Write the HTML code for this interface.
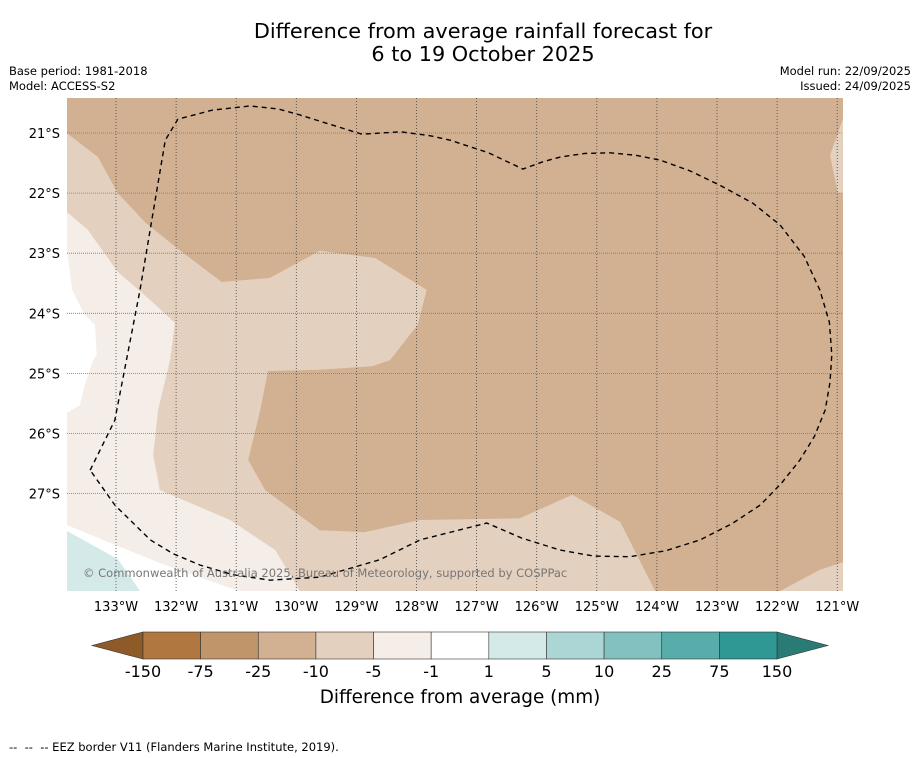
<!DOCTYPE html>
<html><head><meta charset="utf-8"><style>
body{margin:0;background:#fff;}
svg{display:block;font-family:"DejaVu Sans","Liberation Sans",sans-serif;}
</style></head><body>
<svg id="chart" width="919" height="758" viewBox="0 0 919 758" xmlns="http://www.w3.org/2000/svg">
<rect width="919" height="758" fill="#fff"/>
<text x="483" y="38" font-size="20.8" text-anchor="middle" fill="#000">Difference from average rainfall forecast for</text>
<text x="483" y="61" font-size="20.8" text-anchor="middle" fill="#000">6 to 19 October 2025</text>
<text x="9" y="75" font-size="11.5">Base period: 1981-2018</text>
<text x="9" y="90" font-size="11.5">Model: ACCESS-S2</text>
<text x="911" y="75" font-size="11.5" text-anchor="end">Model run: 22/09/2025</text>
<text x="911" y="90" font-size="11.5" text-anchor="end">Issued: 24/09/2025</text>
<defs><clipPath id="mapclip"><rect x="67" y="98" width="776" height="493"/></clipPath></defs>
<g id="map" clip-path="url(#mapclip)"></g>
<g id="axes"></g>
<g id="cbar"></g>
<text x="83" y="577" font-size="11.5" fill="#777">© Commonwealth of Australia 2025, Bureau of Meteorology, supported by COSPPac</text>
<text x="460" y="703" font-size="18.4" text-anchor="middle">Difference from average (mm)</text>
<text x="9" y="751" font-size="11.5" xml:space="preserve">--  --  -- EEZ border V11 (Flanders Marine Institute, 2019).</text>
</svg>
<script>
// ---- data ----
const lonTicks=[133,132,131,130,129,128,127,126,125,124,123,122,121];
const latTicks=[21,22,23,24,25,26,27];
const cbarLabels=["-150","-75","-25","-10","-5","-1","1","5","10","25","75","150"];
const cbarColors=["#b07840","#c0956a","#d2b092","#e3d0bf","#f4ede8","#ffffff","#d4eae9","#acd6d5","#82c1bf","#58adaa","#2f9794"];
const lowEndColor="#8e5b28", highEndColor="#2a7a76";
const baseFill="#d2b092";
const contourLight=[[133.82,21],[133.3,21.4],[132.97,22],[132.52,22.48],[131.94,22.95],[131.24,23.48],[130.44,23.41],[129.61,22.96],[128.69,23.08],[127.83,23.61],[127.98,24.19],[128.44,24.78],[128.74,24.88],[129.61,24.94],[130.47,24.96],[130.6,25.61],[130.8,26.44],[130.52,26.94],[129.61,27.61],[128.86,27.64],[127.94,27.44],[126.28,27.41],[125.41,27.02],[124.61,27.47],[124.03,28.62],[133.82,28.62]];
const contourLightNE=[[120.9,20.75],[121.12,21.37],[120.99,22],[120.9,22]];
const contourLightSE=[[121.95,28.62],[121.29,28.27],[120.9,28.14],[120.9,28.62]];
const contourPale=[[133.82,22.31],[133.47,22.61],[132.97,23.31],[132.43,23.78],[132.02,24.16],[132.1,24.78],[132.3,25.61],[132.38,26.36],[132.27,26.94],[131.1,27.44],[130.35,27.94],[129.94,28.62],[133.82,28.62]];
const contourWhiteW=[[133.82,22.9],[133.73,23.61],[133.52,24.03],[133.35,24.19],[133.32,24.69],[133.38,24.78],[133.52,25.19],[133.6,25.53],[133.82,25.66]];
const contourWhiteS=[[133.82,27.52],[133.1,27.82],[132.18,28.19],[131.1,28.57],[130.94,28.62],[133.82,28.62]];
const contourTeal=[[133.82,27.62],[132.97,28.09],[132.6,28.62],[133.82,28.62]];
const eezBorder=[[133.43,26.61],[133.02,25.78],[132.6,23.61],[132.18,21.12],[131.97,20.77],[131.4,20.62],[130.77,20.55],[130.3,20.6],[129.94,20.7],[128.91,21.02],[128.27,20.98],[127.8,21.04],[127.44,21.12],[126.8,21.33],[126.23,21.6],[125.9,21.48],[125.61,21.4],[125.2,21.34],[124.78,21.33],[124.35,21.37],[123.95,21.45],[123.45,21.63],[122.95,21.87],[122.4,22.17],[121.95,22.53],[121.55,23.05],[121.29,23.61],[121.13,24.15],[121.09,24.69],[121.12,25.15],[121.2,25.61],[121.38,26.05],[121.62,26.44],[121.93,26.83],[122.28,27.19],[122.75,27.5],[123.28,27.77],[123.85,27.95],[124.45,28.05],[125.05,28.04],[125.61,27.94],[126.25,27.74],[126.83,27.49],[127.94,27.77],[128.61,28.1],[129.61,28.39],[130.44,28.44],[131.05,28.35],[131.6,28.19],[132.05,28.0],[132.43,27.77],[133.02,27.19],[133.43,26.61]];
// ---- axis functions ----
const x=lonW=>116+(133-lonW)*60.1;
const y=latS=>133+(latS-21)*60.1;
const NS="http://www.w3.org/2000/svg";
function mk(tag,attrs,parent){const e=document.createElementNS(NS,tag);for(const k in attrs)e.setAttribute(k,attrs[k]);parent.appendChild(e);return e;}
const map=document.getElementById('map'),axes=document.getElementById('axes'),cbar=document.getElementById('cbar');
const bg=mk('rect',{x:67,y:98,width:776,height:493,fill:baseFill},map);


function poly(pts,fill,name){const p=mk('polygon',{points:pts.map(q=>x(q[0])+','+y(q[1])).join(' '),fill:fill},map);

}
poly(contourLight,cbarColors[3],'contour-minus10-to-minus5');
poly(contourLightNE,cbarColors[3],'contour-minus10-to-minus5-ne');
poly(contourLightSE,cbarColors[3],'contour-minus10-to-minus5-se');
poly(contourPale,cbarColors[4],'contour-minus5-to-minus1');
poly(contourWhiteW,cbarColors[5],'contour-minus1-to-1-west');
poly(contourWhiteS,cbarColors[5],'contour-minus1-to-1-south');
poly(contourTeal,cbarColors[6],'contour-1-to-5');
// grid
lonTicks.forEach(l=>{const g=mk('line',{x1:x(l),x2:x(l),y1:98,y2:591,stroke:'#444','stroke-width':0.8,'stroke-dasharray':'1,2'},map);


const t=mk('text',{x:x(l),y:611,'font-size':13,'text-anchor':'middle'},axes);t.textContent=l+'°W';

});
latTicks.forEach(l=>{const g=mk('line',{x1:67,x2:843,y1:y(l),y2:y(l),stroke:'#777','stroke-width':0.8,'stroke-dasharray':'1,1'},map);


const t=mk('text',{x:60,y:y(l)+5,'font-size':13,'text-anchor':'end'},axes);t.textContent=l+'°S';

});
const eez=mk('polyline',{points:eezBorder.map(q=>x(q[0])+','+y(q[1])).join(' '),fill:'none',stroke:'#000','stroke-width':1.4,'stroke-dasharray':'5,4'},map);


// colorbar
const cx0=143,cx1=777,cy0=632,cy1=659,bw=(cx1-cx0)/cbarColors.length;
const le=mk('polygon',{points:`${cx0},${cy0} ${cx0},${cy1} 92,${(cy0+cy1)/2}`,fill:lowEndColor,stroke:'#333','stroke-width':0.6},cbar);


const he=mk('polygon',{points:`${cx1},${cy0} ${cx1},${cy1} 828,${(cy0+cy1)/2}`,fill:highEndColor,stroke:'#333','stroke-width':0.6},cbar);


cbarColors.forEach((c,i)=>{const r=mk('rect',{x:cx0+i*bw,y:cy0,width:bw,height:cy1-cy0,fill:c,stroke:'#333','stroke-width':0.6},cbar);

});
cbarLabels.forEach((s,i)=>{const t=mk('text',{x:cx0+i*bw,y:677,'font-size':16,'text-anchor':'middle'},cbar);t.textContent=s;

});
</script>
</body></html>
